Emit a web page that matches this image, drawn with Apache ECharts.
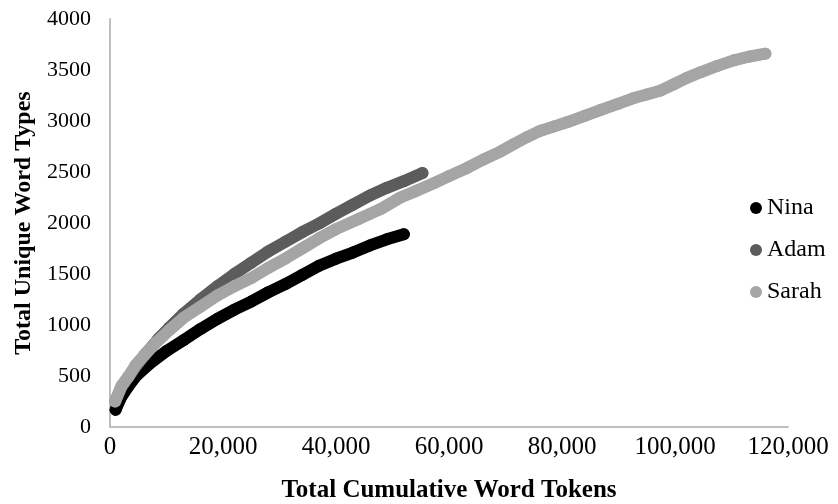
<!DOCTYPE html>
<html>
<head>
<meta charset="utf-8">
<script src="https://cdn.jsdelivr.net/npm/echarts@6/dist/echarts.min.js"></script>
<style>
html,body{margin:0;padding:0;background:#fff;}
#chart{width:838px;height:504px;}
</style>
</head>
<body>
<div id="chart"></div>
<script>
// Data
const seriesNames = ['Nina', 'Adam', 'Sarah'];

const ninaX = [1000, 2000, 3200, 4700, 7000, 10000, 13000, 16000, 19000, 22000, 25000, 28000, 31000, 34000, 37000, 40000, 43000, 46000, 49000, 52000];
const ninaY = [170, 295, 395, 505, 620, 745, 850, 960, 1060, 1150, 1230, 1320, 1400, 1490, 1580, 1650, 1710, 1780, 1840, 1890];

const adamX = [1000, 2000, 3300, 4800, 6500, 8500, 10500, 13000, 16000, 19000, 22000, 25000, 28000, 31000, 34000, 37000, 40000, 43000, 46000, 49000, 52000, 55300];
const adamY = [260, 390, 495, 610, 730, 860, 975, 1110, 1250, 1380, 1500, 1610, 1720, 1815, 1910, 1995, 2090, 2180, 2270, 2345, 2410, 2490];

const sarahX = [900, 2100, 3300, 4500, 6000, 8000, 10500, 13000, 16000, 19000, 22000, 25000, 28000, 31000, 34000, 37000, 40000, 44000, 48000, 51400, 54000, 57300, 60000, 63200, 66000, 69100, 71500, 73900, 76200, 78500, 81000, 84000, 86900, 90000, 92700, 95000, 97500, 99800, 102000, 104600, 107500, 110400, 113000, 116000];
const sarahY = [250, 410, 495, 605, 700, 820, 950, 1070, 1180, 1290, 1380, 1460, 1560, 1650, 1750, 1850, 1940, 2040, 2140, 2250, 2310, 2390, 2460, 2540, 2620, 2700, 2775, 2845, 2905, 2945, 2990, 3050, 3110, 3170, 3225, 3260, 3300, 3360, 3420, 3480, 3540, 3595, 3630, 3660];

const xTicks = [0, 20000, 40000, 60000, 80000, 100000, 120000];
const yTicks = [0, 500, 1000, 1500, 2000, 2500, 3000, 3500, 4000];

const colors = ['#000000', '#5c5c5c', '#a5a5a5'];

function pairs(xs, ys) { return xs.map((x, i) => [x, ys[i]]); }
const allData = [pairs(ninaX, ninaY), pairs(adamX, adamY), pairs(sarahX, sarahY)];

const serif = '"Liberation Serif", "Times New Roman", serif';
const chart = echarts.init(document.getElementById('chart'), null, {renderer: 'canvas'});

chart.setOption({
  animation: false,
  backgroundColor: '#ffffff',
  grid: {left: 110, right: 50, top: 19, bottom: 77, containLabel: false, outerBoundsMode: 'none'},
  legend: {
    orient: 'vertical',
    left: 745,
    top: 191,
    icon: 'circle',
    itemWidth: 12,
    itemHeight: 12,
    itemGap: 18,
    textStyle: {fontFamily: serif, fontSize: 24, color: '#000'},
    data: seriesNames
  },
  xAxis: {
    type: 'value',
    min: xTicks[0],
    max: xTicks[xTicks.length - 1],
    interval: xTicks[1] - xTicks[0],
    name: 'Total Cumulative Word Tokens',
    nameLocation: 'middle',
    nameGap: 51,
    nameTextStyle: {fontFamily: serif, fontSize: 25, fontWeight: 'bold', color: '#000'},
    axisLine: {show: true, lineStyle: {color: '#bfbfbf', width: 2}},
    axisTick: {show: false},
    splitLine: {show: false},
    axisLabel: {
      fontFamily: serif, fontSize: 25, color: '#000', margin: 8,
      formatter: v => v.toLocaleString('en-US')
    }
  },
  yAxis: {
    type: 'value',
    min: yTicks[0],
    max: yTicks[yTicks.length - 1],
    interval: yTicks[1] - yTicks[0],
    name: 'Total Unique Word Types',
    nameLocation: 'middle',
    nameGap: 57,
    nameTextStyle: {fontFamily: serif, fontSize: 24, fontWeight: 'bold', color: '#000'},
    axisLine: {show: true, lineStyle: {color: '#bfbfbf', width: 2}},
    axisTick: {show: false},
    splitLine: {show: false},
    axisLabel: {fontFamily: serif, fontSize: 22, color: '#000', margin: 19, formatter: v => String(v)}
  },
  series: seriesNames.map((name, i) => ({
    name: name,
    type: 'line',
    data: allData[i],
    symbol: 'circle',
    symbolSize: 12,
    showSymbol: true,
    smooth: false,
    color: colors[i],
    itemStyle: {color: colors[i], borderWidth: 0},
    lineStyle: {color: colors[i], width: 12, cap: 'round', join: 'round'},
    emphasis: {disabled: true},
    z: 2 + i
  }))
});
</script>
</body>
</html>
